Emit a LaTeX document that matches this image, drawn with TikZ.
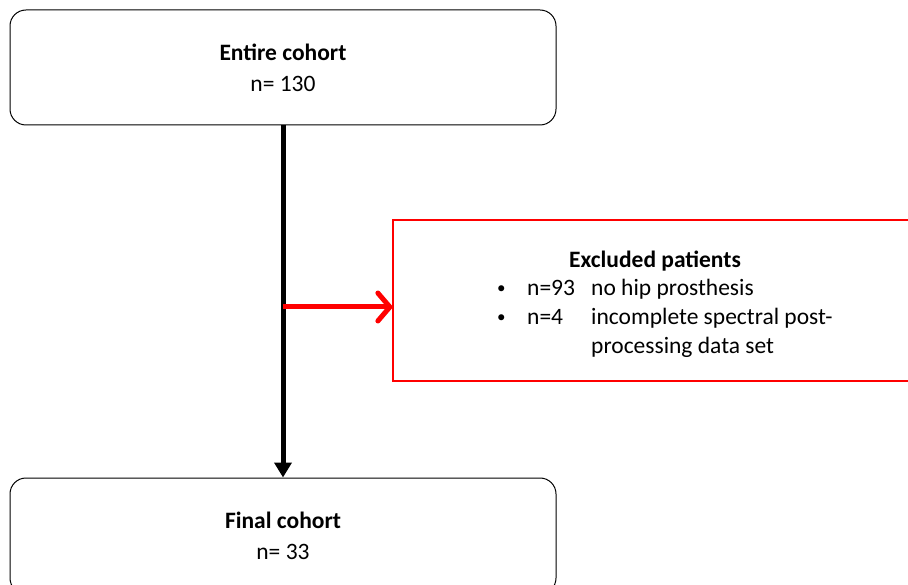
\documentclass[tikz,border=0pt]{standalone}
\usepackage{fontspec}
\setmainfont{Carlito}
\usetikzlibrary{arrows.meta}
\begin{document}
\begin{tikzpicture}[x=1pt,y=-1pt,
  cohortbox/.style={draw=black, line width=1pt, rounded corners=16pt, align=center,
    minimum width=546pt, font=\fontsize{23.5}{31}\selectfont},
  exbox/.style={draw=red, line width=1.3pt, minimum width=545pt, minimum height=161pt},
  txt/.style={font=\fontsize{23.5}{29}\selectfont, inner sep=0pt, anchor=base west},
  bul/.style={font=\fontsize{17}{20}\selectfont, inner sep=0pt, anchor=base west},
  mainline/.style={line width=5pt, -{Triangle[width=17pt,length=15pt]}},
  redline/.style={red, line width=5pt, -{Straight Barb[length=12pt,width=28pt,round]}}]
\useasboundingbox (0,0) rectangle (908,585);
\clip (0,0) rectangle (908,585);
\node[cohortbox, minimum height=115pt] (top) at (283,67.5) {\textbf{Entire cohort}\\n= 130};
\node[cohortbox, minimum height=116pt] (bot) at (283,536) {\textbf{Final cohort}\\n= 33};
\node[exbox] (ex) at (665.5,300.5) {};
\node[txt, anchor=base] (extitle) at (655,268) {\textbf{Excluded patients}};
\node[bul] (b1) at (497,294) {•};
\node[txt] (n1) at (527,296) {n=93};
\node[txt] (t1) at (591,296) {no hip prosthesis};
\node[bul] (b2) at (497,323) {•};
\node[txt] (n2) at (527,325) {n=4};
\node[txt] (t2) at (591,325) {incomplete spectral post-};
\node[txt] (t3) at (591,354) {processing data set};
\coordinate (j) at (283,307);
\draw[mainline] (top.south) -- (bot.north);
\draw[redline] (j) -- (ex.west |- j);
\end{tikzpicture}
\end{document}
